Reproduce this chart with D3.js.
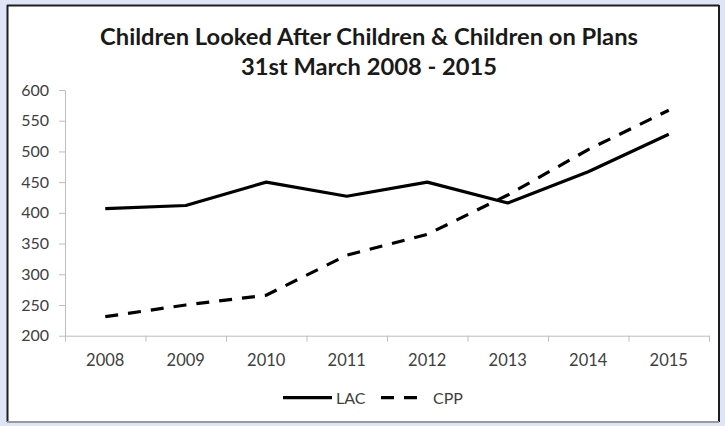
<!doctype html>
<html>
<head>
<meta charset="utf-8">
<style>
  body { margin: 0; background: #dfe5f6; }
  svg { display: block; }
  text { font-family: Lato, "Open Sans", sans-serif; }
</style>
</head>
<body>
<svg id="chart" width="725" height="426"></svg>
<script src="https://cdnjs.cloudflare.com/ajax/libs/d3/7.8.5/d3.min.js"></script>
<script>
// data
const years = ["2008", "2009", "2010", "2011", "2012", "2013", "2014", "2015"];
const lac = [407, 412, 450, 427, 450, 416, 467, 528];
const cpp = [231, 250, 266, 331, 365, 429, 503, 567];
const yTicks = [200, 250, 300, 350, 400, 450, 500, 550, 600];
const titleLines = ["Children Looked After Children & Children on Plans", "31st March 2008 - 2015"];

const svg = d3.select("#chart");

// chart area frame
svg.append("rect").attr("x", 0).attr("y", 0).attr("width", 725).attr("height", 426).attr("fill", "#dfe5f6");
svg.append("rect").attr("x", 7).attr("y", 5).attr("width", 712).attr("height", 417).attr("fill", "#fff");
svg.append("line").attr("x1", 7).attr("x2", 719).attr("y1", 5.5).attr("y2", 5.5).attr("stroke", "#1e1e1e").attr("stroke-width", 2);
svg.append("line").attr("x1", 7.5).attr("x2", 7.5).attr("y1", 5).attr("y2", 422).attr("stroke", "#1e1e1e").attr("stroke-width", 2);
svg.append("line").attr("x1", 719).attr("x2", 719).attr("y1", 5).attr("y2", 422).attr("stroke", "#1e1e1e").attr("stroke-width", 2);
svg.append("line").attr("x1", 7).attr("x2", 719).attr("y1", 422).attr("y2", 422).attr("stroke", "#9a9a9a").attr("stroke-width", 2);

// scales
const x = d3.scaleBand().domain(years).range([65, 709]).padding(0);
const xEdge = d3.scaleLinear().domain([0, years.length]).range([65, 709]);
const y = d3.scaleLinear().domain([200, 600]).range([335.7, 90]);
const cx = d => x(d) + x.bandwidth() / 2;

// y axis
const yAxis = svg.append("g")
  .attr("transform", "translate(65,0)")
  .call(d3.axisLeft(y).tickValues(yTicks).tickSizeInner(6).tickSizeOuter(0).tickPadding(10));
yAxis.select(".domain").attr("stroke", "#bdbdbd");
yAxis.selectAll(".tick line").attr("stroke", "#bdbdbd");
yAxis.selectAll("text").attr("fill", "#404040").style("font-size", "16px").style("font-family", "Lato");

// x axis: tick marks on category edges, labels in the middle
const xTicks = svg.append("g")
  .attr("transform", "translate(0,335.7)")
  .call(d3.axisBottom(xEdge).ticks(years.length).tickFormat("").tickSizeInner(6).tickSizeOuter(0));
xTicks.select(".domain").attr("stroke", "#bdbdbd");
xTicks.selectAll(".tick line").attr("stroke", "#bdbdbd");

const xLabels = svg.append("g")
  .attr("transform", "translate(0,335.7)")
  .call(d3.axisBottom(x).tickSize(0).tickPadding(18.5));
xLabels.select(".domain").remove();
xLabels.selectAll("text").attr("fill", "#404040").style("font-size", "16.5px").style("font-family", "Lato");

// lines
const line = d3.line().x((d, i) => cx(years[i])).y(d => y(d));

svg.append("path")
  .datum(lac)
  .attr("d", line)
  .attr("fill", "none")
  .attr("stroke", "#000")
  .attr("stroke-width", 3.2)
  .attr("stroke-linejoin", "round");

svg.append("path")
  .datum(cpp)
  .attr("d", line)
  .attr("fill", "none")
  .attr("stroke", "#000")
  .attr("stroke-width", 3.2)
  .attr("stroke-dasharray", "13,10");

// title, fitted to the reference width
const title = svg.append("text")
  .attr("x", 369)
  .attr("text-anchor", "middle")
  .attr("fill", "#1a1a1a")
  .style("font-weight", "bold");
title.append("tspan").attr("x", 369).attr("y", 45).text(titleLines[0]);
title.append("tspan").attr("x", 369).attr("y", 75).text(titleLines[1]);
title.style("font-size", "20px");
const w = title.select("tspan").node().getComputedTextLength();
title.style("font-size", (20 * 538 / w) + "px");

// legend
const legend = svg.append("g");
legend.append("line").attr("x1", 283).attr("x2", 332).attr("y1", 397.7).attr("y2", 397.7)
  .attr("stroke", "#000").attr("stroke-width", 3.2);
legend.append("text").attr("x", 336).attr("y", 403.5).text("LAC")
  .attr("fill", "#404040").style("font-size", "16px");
legend.append("line").attr("x1", 381).attr("x2", 417).attr("y1", 397.7).attr("y2", 397.7)
  .attr("stroke", "#000").attr("stroke-width", 3.2).attr("stroke-dasharray", "13,10");
legend.append("text").attr("x", 433).attr("y", 403.5).text("CPP")
  .attr("fill", "#404040").style("font-size", "16px");
</script>
</body>
</html>
